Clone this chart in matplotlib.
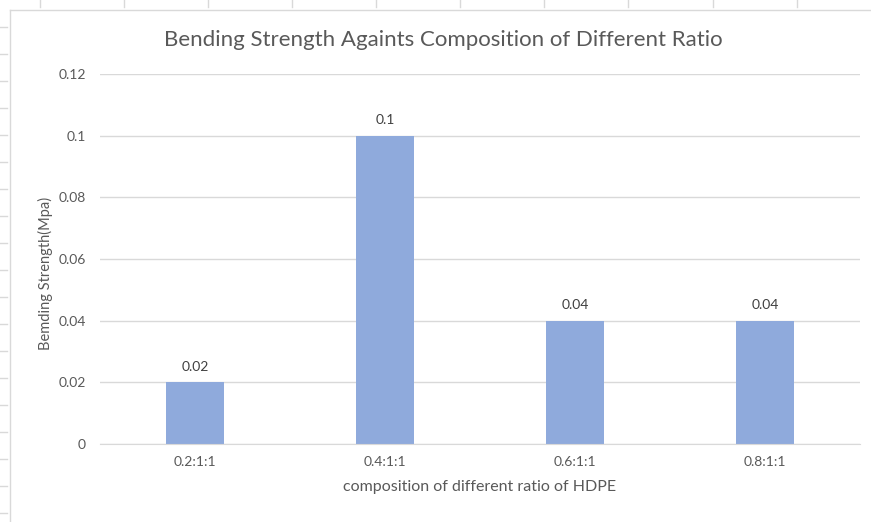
import matplotlib.pyplot as plt
from matplotlib.lines import Line2D

ratios = ['0.2:1:1', '0.4:1:1', '0.6:1:1', '0.8:1:1']
strength = [0.02, 0.1, 0.04, 0.04]
yticks = [0, 0.02, 0.04, 0.06, 0.08, 0.1, 0.12]
ytick_labels = ['0', '0.02', '0.04', '0.06', '0.08', '0.1', '0.12']

TEXT = '#595959'
plt.rcParams['font.family'] = ['Lato', 'DejaVu Sans']

W, H = 871, 522
fig = plt.figure(figsize=(W / 100, H / 100), dpi=100)
ax = fig.add_axes([100 / W, 1 - 444 / H, 760 / W, 370 / H])

x = range(len(ratios))
bars = ax.bar(x, strength, width=0.31, color='#8FAADC', zorder=3)
ax.bar_label(bars, labels=[f'{v:g}' for v in strength], padding=7,
             fontsize=10, color='#404040')

ax.set_xlim(-0.5, len(ratios) - 0.5)
ax.set_ylim(0, 0.12)
ax.set_yticks(yticks)
ax.set_yticklabels(ytick_labels)
ax.set_xticks(list(x))
ax.set_xticklabels(ratios)
ax.tick_params(length=0, labelsize=10, labelcolor=TEXT)
ax.tick_params(axis='y', pad=10)
ax.tick_params(axis='x', pad=9)
ax.grid(axis='y', color='#D9D9D9', linewidth=1, zorder=0)
for s in ['top', 'right', 'left']:
    ax.spines[s].set_visible(False)
ax.spines['bottom'].set_color('#D9D9D9')
ax.spines['bottom'].set_zorder(4)

ax.set_xlabel('composition of different ratio of HDPE', fontsize=11.5,
              color=TEXT, labelpad=8)
ax.set_ylabel('Bemding Strength(Mpa)', fontsize=10.5, color=TEXT)
ax.yaxis.set_label_coords(-0.062, 0.46)
fig.text(443 / W, 1 - 40 / H,
         'Bending Strength Againts Composition of Different Ratio',
         ha='center', va='center', fontsize=16, color=TEXT)

# spreadsheet chart frame and cell ticks
fig.add_artist(Line2D([10 / W, 10 / W], [0, 1 - 9.5 / H], color='#D9D9D9', lw=1))
fig.add_artist(Line2D([10 / W, 1], [1 - 9.5 / H, 1 - 9.5 / H], color='#D9D9D9', lw=1))
for yp in range(27, H, 27):
    fig.add_artist(Line2D([0, 7 / W], [1 - yp / H] * 2, color='#D9D9D9', lw=1))
for xp in [40, 124, 208, 292, 376, 460, 544, 628, 713, 797]:
    fig.add_artist(Line2D([xp / W] * 2, [1, 1 - 7 / H], color='#D9D9D9', lw=1))

fig.savefig('out.png', dpi=100)
